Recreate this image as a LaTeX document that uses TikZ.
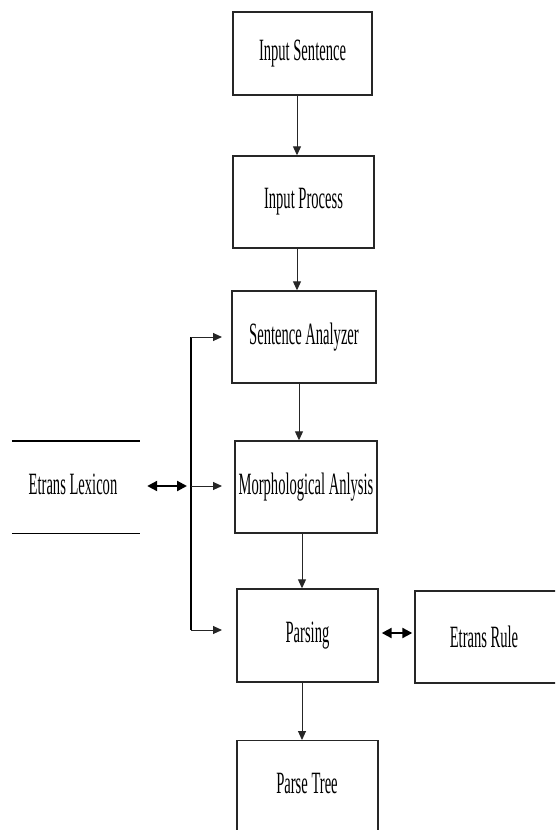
\documentclass[tikz,border=0pt]{standalone}
\usepackage{fontspec}
\newfontfamily\cfont{Liberation Serif}[FakeStretch=0.47]
\usetikzlibrary{arrows.meta,calc}
\begin{document}
\begin{tikzpicture}[x=1pt,y=-1pt,
  box/.style={draw=black!85,line width=1.4pt,inner sep=0pt,font=\cfont\fontsize{31}{33}\selectfont},
  lbl/.style={inner sep=0pt,font=\cfont\fontsize{31}{33}\selectfont},
  arr/.style={draw=black!85,line width=1pt,-{Triangle[length=9pt,width=8pt]}},
  dbl/.style={draw=black,line width=2.2pt,{Triangle[length=10pt,width=10pt]}-{Triangle[length=10pt,width=10pt]}},
  bus/.style={draw=black,line width=1.4pt}]
\useasboundingbox (0,0) rectangle (555,830);
\clip (0,0) rectangle (555,830);
\fill[white] (0,0) rectangle (555,830);
% boxes
\node[box,minimum width=139,minimum height=83] (is) at (302.5,53.5) {Input Sentence};
\node[box,minimum width=141,minimum height=92] (ip) at (303.5,202) {Input Process};
\node[box,minimum width=144,minimum height=92] (sa) at (304,337) {Sentence Analyzer};
\node[box,minimum width=142,minimum height=92] (ma) at (306,487) {Morphological Anlysis};
\node[box,minimum width=141,minimum height=93] (pa) at (307.5,635.5) {Parsing};
\node[box,minimum width=145,minimum height=92] (er) at (487.5,637) {};
\node[lbl] (ert) at (484,637) {Etrans Rule};
\node[box,minimum width=141,minimum height=140,anchor=north] (pt) at (307.5,740) {};
\node[lbl] (ptt) at (307,783) {Parse Tree};
% lexicon (open store)
\node[lbl,minimum width=128,minimum height=92] (lex) at (76,487) {};
\node[lbl] (lext) at (73,484) {Etrans Lexicon};
\draw[bus] (lex.north west) -- (lex.north east);
\draw[bus] (lex.south west) -- (lex.south east);
% main flow
\draw[arr] ([xshift=-5.5]is.south) -- ([xshift=-5.5]is.south |- ip.north);
\draw[arr] ([xshift=-6.5]ip.south) -- ([xshift=-6.5]ip.south |- sa.north);
\draw[arr] ([xshift=-5]sa.south) -- ([xshift=-5]sa.south |- ma.north);
\draw[arr] ([xshift=-4]ma.south) -- ([xshift=-4]ma.south |- pa.north);
\draw[arr] ([xshift=-5.5]pa.south) -- ([xshift=-5.5]pa.south |- pt.north);
% bus
\coordinate (bt) at (191,337);
\coordinate (bm) at (191,486);
\coordinate (bb) at (191,630);
\draw[bus] (bt) -- (bb);
\draw[arr] (bt) -- (222,337);
\draw[arr] (bm) -- (222,486);
\draw[arr] (bb) -- (222,630);
% double arrows
\draw[dbl] ([xshift=7]lex.east |- bm) -- ([xshift=-4]bm);
\draw[dbl] ([xshift=3]pa.east |- 0,633) -- ([xshift=-2]er.west |- 0,633);
\end{tikzpicture}
\end{document}
